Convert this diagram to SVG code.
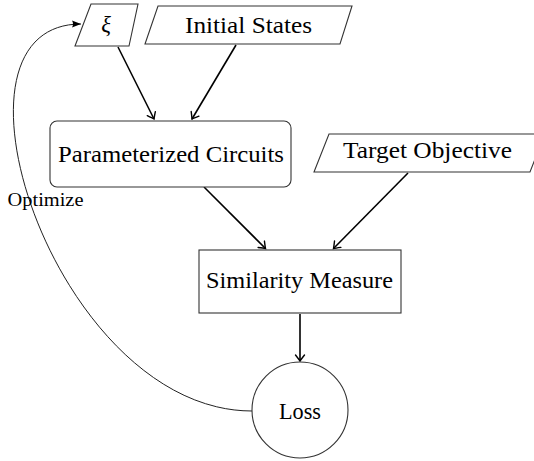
<svg xmlns="http://www.w3.org/2000/svg" width="534" height="461" viewBox="0 0 534 461">
<defs>
<style>
.shape{fill:#fff;stroke:#333;stroke-width:1.1}
.lbl{font-family:"Liberation Serif","Times New Roman",serif;font-size:22.5px;fill:#000;text-anchor:middle}
.small{font-size:18.5px}
.arrow{fill:none;stroke:#000;stroke-width:1.6}
.loop{fill:none;stroke:#222;stroke-width:1}
</style>
<marker id="to" viewBox="-8 -6 10 12" markerWidth="10" markerHeight="12" refX="0" refY="0" orient="auto" markerUnits="userSpaceOnUse">
<path d="M-6,-4.5 Q-1.5,-1 0,0 Q-1.5,1 -6,4.5" fill="none" stroke="#000" stroke-width="1.4" stroke-linecap="round"/>
</marker>
<marker id="tri" viewBox="-10 -5 11 10" markerWidth="11" markerHeight="10" refX="0" refY="0" orient="auto" markerUnits="userSpaceOnUse">
<path d="M-9,-3.5 L0,0 L-9,3.5 Q-7,0 -9,-3.5 Z" fill="#000"/>
</marker>
</defs>

<g id="connectors">
<line class="arrow" x1="118" y1="47" x2="154" y2="119" marker-end="url(#to)"/>
<line class="arrow" x1="236" y1="45" x2="192" y2="119" marker-end="url(#to)"/>
<line class="arrow" x1="204" y1="187" x2="265.5" y2="248.5" marker-end="url(#to)"/>
<line class="arrow" x1="408" y1="173" x2="333.5" y2="248.5" marker-end="url(#to)"/>
<line class="arrow" x1="300" y1="314" x2="300" y2="361" marker-end="url(#to)"/>
<path class="loop" d="M252,411 C56,411 -72,24 81,24" marker-end="url(#tri)"/>
<text class="lbl small" x="45.5" y="206" textLength="76" lengthAdjust="spacingAndGlyphs">Optimize</text>
</g>

<g id="xi">
<polygon class="shape" points="91,4 138,4 129,46 75,46"/>
<text class="lbl" x="106" y="32" font-style="italic" font-size="25px">ξ</text>
</g>

<g id="initial-states">
<polygon class="shape" points="158,6 352,6 340,44 145,44"/>
<text class="lbl" x="248.5" y="32.5" textLength="127" lengthAdjust="spacingAndGlyphs">Initial States</text>
</g>

<g id="parameterized-circuits">
<rect class="shape" x="50" y="121" width="241" height="66" rx="7"/>
<text class="lbl" x="171" y="162" textLength="226" lengthAdjust="spacingAndGlyphs">Parameterized Circuits</text>
</g>

<g id="target-objective">
<polygon class="shape" points="329,134 545,134 530,172 314,172"/>
<text class="lbl" x="427.5" y="157.5" textLength="169" lengthAdjust="spacingAndGlyphs">Target Objective</text>
</g>

<g id="similarity-measure">
<rect class="shape" x="199" y="250" width="202" height="63"/>
<text class="lbl" x="299.5" y="287.5" textLength="187" lengthAdjust="spacingAndGlyphs">Similarity Measure</text>
</g>

<g id="loss">
<circle class="shape" cx="300" cy="410" r="48"/>
<text class="lbl" x="300" y="419" textLength="42" lengthAdjust="spacingAndGlyphs">Loss</text>
</g>
</svg>
